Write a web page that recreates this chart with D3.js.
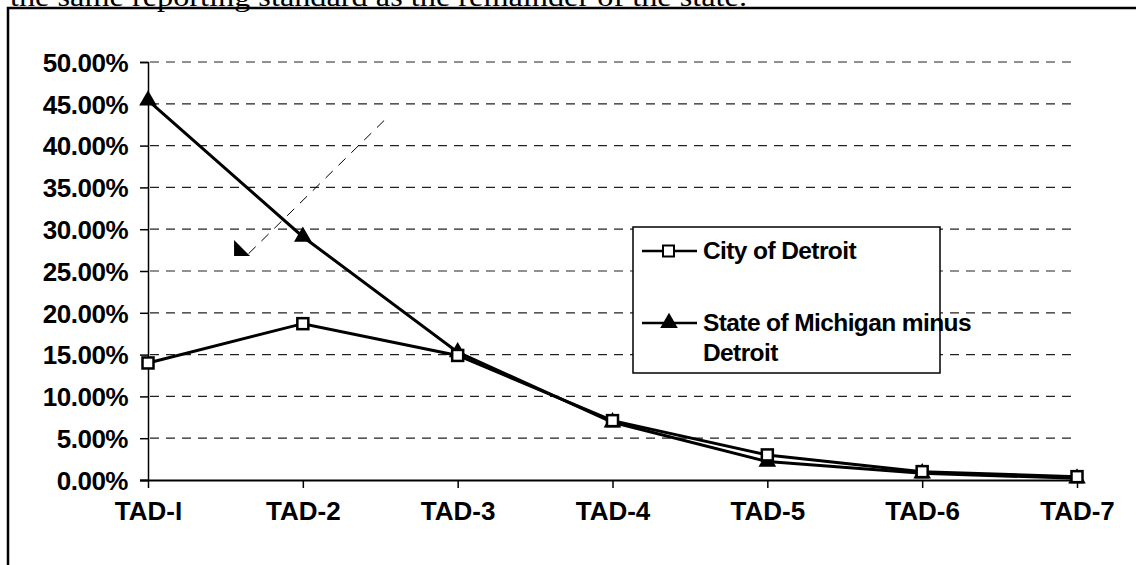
<!DOCTYPE html>
<html>
<head>
<meta charset="utf-8">
<script src="https://cdn.jsdelivr.net/npm/d3@7"></script>
<style>
  body { margin: 0; background: #fff; }
  svg { display: block; }
  .tick text { font-family: "Liberation Sans", Arial, sans-serif; font-weight: bold; }
</style>
</head>
<body>
<div id="chart"></div>
<script>
// categories and values
var categories = ["TAD-I", "TAD-2", "TAD-3", "TAD-4", "TAD-5", "TAD-6", "TAD-7"];
var detroit = [14.0, 18.7, 14.9, 7.1, 3.0, 1.0, 0.4];
var michigan = [45.4, 29.1, 15.3, 6.9, 2.2, 0.8, 0.2];
var yTicks = [0, 5, 10, 15, 20, 25, 30, 35, 40, 45, 50];
var seriesNames = ["City of Detroit", "State of Michigan minus|Detroit"];
// stray dashed arrow on the scan, in (category index, percent)
var arrowPts = [[1.525, 43.0], [0.64, 26.9]];

var W = 1138, H = 565;

var svg = d3.select("#chart").append("svg")
  .attr("width", W)
  .attr("height", H);

// text line from the page above, cut off by the crop
svg.append("text")
  .attr("x", 10)
  .attr("y", 6)
  .attr("font-family", "Liberation Serif, Times New Roman, serif")
  .attr("font-size", 27)
  .attr("textLength", 737)
  .attr("lengthAdjust", "spacingAndGlyphs")
  .text("the same reporting standard as the remainder of the state.");

// frame round the figure
svg.append("path")
  .attr("d", "M8,570 V8 H1136")
  .attr("fill", "none")
  .attr("stroke", "#000")
  .attr("stroke-width", 2.5);

var x = d3.scalePoint()
  .domain(categories)
  .range([148, 1077]);

var xi = d3.scaleLinear()
  .domain([0, categories.length - 1])
  .range([148, 1077]);

var y = d3.scaleLinear()
  .domain([0, 50])
  .range([480, 62]);

// dashed grid
svg.append("g")
  .selectAll("line")
  .data(yTicks.filter(function(d){ return d > 0; }))
  .join("line")
  .attr("x1", 150)
  .attr("x2", 1074)
  .attr("y1", function(d){ return y(d); })
  .attr("y2", function(d){ return y(d); })
  .attr("stroke", "#222")
  .attr("stroke-width", 1.2)
  .attr("stroke-dasharray", "9,7");

var yAxis = d3.axisLeft(y)
  .tickValues(yTicks)
  .tickSize(8)
  .tickPadding(12)
  .tickFormat(function(d){ return d.toFixed(2) + "%"; });

var gy = svg.append("g")
  .attr("transform", "translate(148,0)")
  .call(yAxis);
gy.select(".domain").attr("stroke-width", 1.5);
gy.selectAll(".tick line").attr("stroke-width", 1.5);
gy.selectAll(".tick text")
  .attr("font-size", 26)
  .attr("dy", "0.36em")
  .attr("letter-spacing", -0.5);

var xAxis = d3.axisBottom(x)
  .tickSize(8)
  .tickPadding(9)
  .tickSizeOuter(0);

var gx = svg.append("g")
  .attr("transform", "translate(0,480)")
  .call(xAxis);
gx.select(".domain")
  .attr("d", "M140,0.5H1080")
  .attr("stroke-width", 2);
gx.selectAll(".tick line").attr("stroke-width", 1.5);
gx.selectAll(".tick text")
  .attr("font-size", 26)
  .attr("dy", "0.9em");

var line = d3.line()
  .x(function(d, i){ return x(categories[i]); })
  .y(function(d){ return y(d); });

// State of Michigan minus Detroit
svg.append("path")
  .attr("d", line(michigan))
  .attr("fill", "none")
  .attr("stroke", "#000")
  .attr("stroke-width", 3);

// City of Detroit
svg.append("path")
  .attr("d", line(detroit))
  .attr("fill", "none")
  .attr("stroke", "#000")
  .attr("stroke-width", 3);

var tri = d3.symbol().type(d3.symbolTriangle).size(135);

svg.append("g")
  .selectAll("path")
  .data(michigan)
  .join("path")
  .attr("d", tri)
  .attr("transform", function(d, i){ return "translate(" + x(categories[i]) + "," + y(d) + ")"; })
  .attr("fill", "#000");

svg.append("g")
  .selectAll("rect")
  .data(detroit)
  .join("rect")
  .attr("x", function(d, i){ return x(categories[i]) - 5.5; })
  .attr("y", function(d){ return y(d) - 5.5; })
  .attr("width", 11)
  .attr("height", 11)
  .attr("fill", "#fff")
  .attr("stroke", "#000")
  .attr("stroke-width", 2.5);

// stray dashed arrow
svg.append("line")
  .attr("x1", xi(arrowPts[0][0]))
  .attr("y1", y(arrowPts[0][1]))
  .attr("x2", xi(arrowPts[1][0]))
  .attr("y2", y(arrowPts[1][1]))
  .attr("stroke", "#000")
  .attr("stroke-width", 1)
  .attr("stroke-dasharray", "10,8");

var ax = xi(arrowPts[1][0]), ay = y(arrowPts[1][1]);
svg.append("path")
  .attr("d", "M" + (ax - 13) + "," + (ay - 15) + "L" + (ax - 13) + "," + (ay + 1) + "L" + (ax + 3) + "," + (ay + 1) + "Z")
  .attr("fill", "#000");

// legend
var legend = svg.append("g").attr("transform", "translate(633,227)");

legend.append("rect")
  .attr("width", 307)
  .attr("height", 146)
  .attr("fill", "#fff")
  .attr("stroke", "#000")
  .attr("stroke-width", 1.5);

var rows = [24, 96];

legend.selectAll("line.key")
  .data(rows)
  .join("line")
  .attr("class", "key")
  .attr("x1", 9)
  .attr("x2", 64)
  .attr("y1", function(d){ return d; })
  .attr("y2", function(d){ return d; })
  .attr("stroke", "#000")
  .attr("stroke-width", 2.5);

legend.append("rect")
  .attr("x", 30)
  .attr("y", rows[0] - 5.5)
  .attr("width", 11)
  .attr("height", 11)
  .attr("fill", "#fff")
  .attr("stroke", "#000")
  .attr("stroke-width", 2);

legend.append("path")
  .attr("d", tri)
  .attr("transform", "translate(36," + rows[1] + ")")
  .attr("fill", "#000");

legend.selectAll("text")
  .data(seriesNames)
  .join("text")
  .attr("x", 70)
  .attr("y", function(d, i){ return rows[i] + 8; })
  .attr("font-family", "Liberation Sans, Arial, sans-serif")
  .attr("font-weight", "bold")
  .attr("font-size", 24.5)
  .attr("letter-spacing", -0.6)
  .each(function(d){
    var t = d3.select(this);
    d.split("|").forEach(function(s, k){
      t.append("tspan")
        .attr("x", 70)
        .attr("dy", k ? 30 : 0)
        .text(s);
    });
  });
</script>
</body>
</html>
